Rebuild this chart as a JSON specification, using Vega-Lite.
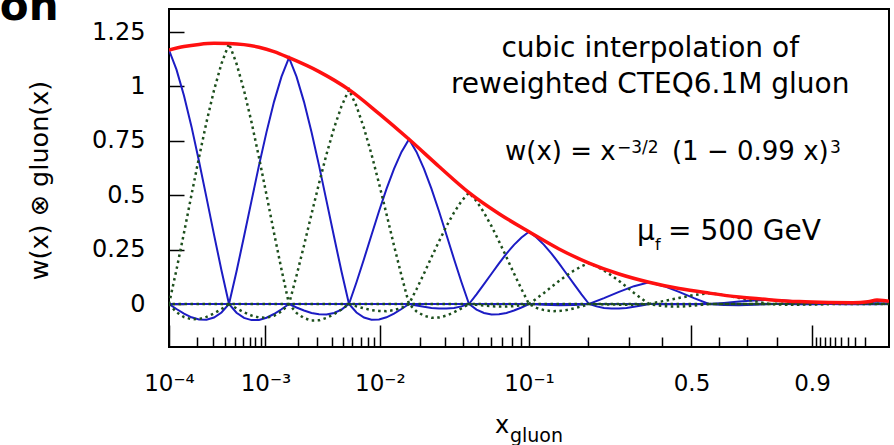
{
  "$schema": "https://vega.github.io/schema/vega-lite/v6.json",
  "width": 720,
  "height": 338,
  "autosize": {"type": "none"},
  "padding": {"left": 169, "top": 9, "right": 5, "bottom": 98},
  "background": "white",
  "config": {
    "view": {"stroke": "black", "strokeWidth": 2},
    "font": "DejaVu Sans"
  },
  "datasets": {
    "blue": [
      {"c":0,"u":0,"w":1.167},{"c":0,"u":0.125,"w":1.077},{"c":0,"u":0.25,"w":0.957},{"c":0,"u":0.375,"w":0.815},{"c":0,"u":0.5,"w":0.656},{"c":0,"u":0.625,"w":0.489},{"c":0,"u":0.75,"w":0.319},{"c":0,"u":0.875,"w":0.154},{"c":0,"u":1,"w":0},{"c":0,"u":1.125,"w":-0.040},{"c":0,"u":1.25,"w":-0.064},{"c":0,"u":1.375,"w":-0.074},{"c":0,"u":1.5,"w":-0.073},{"c":0,"u":1.625,"w":-0.063},{"c":0,"u":1.75,"w":-0.046},{"c":0,"u":1.875,"w":-0.024},{"c":0,"u":2,"w":0},
      {"c":2,"u":0,"w":0},{"c":2,"u":0.125,"w":-0.023},{"c":2,"u":0.25,"w":-0.044},{"c":2,"u":0.375,"w":-0.061},{"c":2,"u":0.5,"w":-0.071},{"c":2,"u":0.625,"w":-0.072},{"c":2,"u":0.75,"w":-0.062},{"c":2,"u":0.875,"w":-0.039},{"c":2,"u":1,"w":0},{"c":2,"u":1.125,"w":0.149},{"c":2,"u":1.25,"w":0.310},{"c":2,"u":1.375,"w":0.474},{"c":2,"u":1.5,"w":0.637},{"c":2,"u":1.625,"w":0.790},{"c":2,"u":1.75,"w":0.929},{"c":2,"u":1.875,"w":1.045},{"c":2,"u":2,"w":1.132},{"c":2,"u":2.125,"w":1.045},{"c":2,"u":2.25,"w":0.929},{"c":2,"u":2.375,"w":0.790},{"c":2,"u":2.5,"w":0.637},{"c":2,"u":2.625,"w":0.474},{"c":2,"u":2.75,"w":0.310},{"c":2,"u":2.875,"w":0.149},{"c":2,"u":3,"w":0},{"c":2,"u":3.125,"w":-0.039},{"c":2,"u":3.25,"w":-0.062},{"c":2,"u":3.375,"w":-0.072},{"c":2,"u":3.5,"w":-0.071},{"c":2,"u":3.625,"w":-0.061},{"c":2,"u":3.75,"w":-0.044},{"c":2,"u":3.875,"w":-0.023},{"c":2,"u":4,"w":0},
      {"c":4,"u":2,"w":0},{"c":4,"u":2.125,"w":-0.016},{"c":4,"u":2.25,"w":-0.030},{"c":4,"u":2.375,"w":-0.041},{"c":4,"u":2.5,"w":-0.047},{"c":4,"u":2.625,"w":-0.048},{"c":4,"u":2.75,"w":-0.041},{"c":4,"u":2.875,"w":-0.026},{"c":4,"u":3,"w":0},{"c":4,"u":3.125,"w":0.100},{"c":4,"u":3.25,"w":0.207},{"c":4,"u":3.375,"w":0.317},{"c":4,"u":3.5,"w":0.426},{"c":4,"u":3.625,"w":0.529},{"c":4,"u":3.75,"w":0.621},{"c":4,"u":3.875,"w":0.699},{"c":4,"u":4,"w":0.757},{"c":4,"u":4.125,"w":0.699},{"c":4,"u":4.25,"w":0.621},{"c":4,"u":4.375,"w":0.529},{"c":4,"u":4.5,"w":0.426},{"c":4,"u":4.625,"w":0.317},{"c":4,"u":4.75,"w":0.207},{"c":4,"u":4.875,"w":0.100},{"c":4,"u":5,"w":0},{"c":4,"u":5.125,"w":-0.026},{"c":4,"u":5.25,"w":-0.041},{"c":4,"u":5.375,"w":-0.048},{"c":4,"u":5.5,"w":-0.047},{"c":4,"u":5.625,"w":-0.041},{"c":4,"u":5.75,"w":-0.030},{"c":4,"u":5.875,"w":-0.016},{"c":4,"u":6,"w":0},
      {"c":6,"u":4,"w":0},{"c":6,"u":4.125,"w":-0.007},{"c":6,"u":4.25,"w":-0.013},{"c":6,"u":4.375,"w":-0.018},{"c":6,"u":4.5,"w":-0.021},{"c":6,"u":4.625,"w":-0.021},{"c":6,"u":4.75,"w":-0.018},{"c":6,"u":4.875,"w":-0.011},{"c":6,"u":5,"w":0},{"c":6,"u":5.125,"w":0.044},{"c":6,"u":5.25,"w":0.091},{"c":6,"u":5.375,"w":0.139},{"c":6,"u":5.5,"w":0.187},{"c":6,"u":5.625,"w":0.232},{"c":6,"u":5.75,"w":0.272},{"c":6,"u":5.875,"w":0.306},{"c":6,"u":6,"w":0.332},{"c":6,"u":6.125,"w":0.306},{"c":6,"u":6.25,"w":0.272},{"c":6,"u":6.375,"w":0.232},{"c":6,"u":6.5,"w":0.187},{"c":6,"u":6.625,"w":0.139},{"c":6,"u":6.75,"w":0.091},{"c":6,"u":6.875,"w":0.044},{"c":6,"u":7,"w":0},{"c":6,"u":7.125,"w":-0.011},{"c":6,"u":7.25,"w":-0.018},{"c":6,"u":7.375,"w":-0.021},{"c":6,"u":7.5,"w":-0.021},{"c":6,"u":7.625,"w":-0.018},{"c":6,"u":7.75,"w":-0.013},{"c":6,"u":7.875,"w":-0.007},{"c":6,"u":8,"w":0},
      {"c":8,"u":6,"w":0},{"c":8,"u":6.25,"w":-0.004},{"c":8,"u":6.5,"w":-0.006},{"c":8,"u":6.75,"w":-0.005},{"c":8,"u":7,"w":0},{"c":8,"u":7.25,"w":0.027},{"c":8,"u":7.5,"w":0.056},{"c":8,"u":7.75,"w":0.082},{"c":8,"u":8,"w":0.100},{"c":8,"u":8.25,"w":0.082},{"c":8,"u":8.5,"w":0.056},{"c":8,"u":8.75,"w":0.027},{"c":8,"u":9,"w":0},{"c":8,"u":9.25,"w":-0.005},{"c":8,"u":9.5,"w":-0.006},{"c":8,"u":9.75,"w":-0.004},{"c":8,"u":10,"w":0},
      {"c":10,"u":8,"w":0},{"c":10,"u":8.25,"w":-0.001},{"c":10,"u":8.5,"w":-0.001},{"c":10,"u":8.75,"w":-0.001},{"c":10,"u":9,"w":0},{"c":10,"u":9.25,"w":0.005},{"c":10,"u":9.5,"w":0.011},{"c":10,"u":9.75,"w":0.016},{"c":10,"u":10,"w":0.020},{"c":10,"u":10.25,"w":0.016},{"c":10,"u":10.5,"w":0.011},{"c":10,"u":10.75,"w":0.005},{"c":10,"u":11,"w":0},{"c":10,"u":11.25,"w":-0.001},{"c":10,"u":11.5,"w":-0.001},{"c":10,"u":11.75,"w":-0.001},{"c":10,"u":12,"w":0},
      {"c":12,"u":10,"w":0},{"c":12,"u":10.25,"w":0},{"c":12,"u":10.5,"w":-0.001},{"c":12,"u":10.75,"w":-0.001},{"c":12,"u":11,"w":0},{"c":12,"u":11.25,"w":0.003},{"c":12,"u":11.5,"w":0.006},{"c":12,"u":11.75,"w":0.010},{"c":12,"u":12,"w":0.012}
    ],
    "green": [
      {"c":-1,"u":0,"w":0},{"c":-1,"u":0.125,"w":-0.038},{"c":-1,"u":0.25,"w":-0.060},{"c":-1,"u":0.375,"w":-0.070},{"c":-1,"u":0.5,"w":-0.069},{"c":-1,"u":0.625,"w":-0.059},{"c":-1,"u":0.75,"w":-0.043},{"c":-1,"u":0.875,"w":-0.023},{"c":-1,"u":1,"w":0},
      {"c":1,"u":0,"w":0},{"c":1,"u":0.125,"w":0.158},{"c":1,"u":0.25,"w":0.327},{"c":1,"u":0.375,"w":0.502},{"c":1,"u":0.5,"w":0.673},{"c":1,"u":0.625,"w":0.836},{"c":1,"u":0.75,"w":0.982},{"c":1,"u":0.875,"w":1.105},{"c":1,"u":1,"w":1.197},{"c":1,"u":1.125,"w":1.105},{"c":1,"u":1.25,"w":0.982},{"c":1,"u":1.375,"w":0.836},{"c":1,"u":1.5,"w":0.673},{"c":1,"u":1.625,"w":0.502},{"c":1,"u":1.75,"w":0.327},{"c":1,"u":1.875,"w":0.158},{"c":1,"u":2,"w":0},{"c":1,"u":2.125,"w":-0.041},{"c":1,"u":2.25,"w":-0.065},{"c":1,"u":2.375,"w":-0.076},{"c":1,"u":2.5,"w":-0.075},{"c":1,"u":2.625,"w":-0.064},{"c":1,"u":2.75,"w":-0.047},{"c":1,"u":2.875,"w":-0.025},{"c":1,"u":3,"w":0},
      {"c":3,"u":1,"w":0},{"c":3,"u":1.125,"w":-0.020},{"c":3,"u":1.25,"w":-0.038},{"c":3,"u":1.375,"w":-0.053},{"c":3,"u":1.5,"w":-0.062},{"c":3,"u":1.625,"w":-0.063},{"c":3,"u":1.75,"w":-0.054},{"c":3,"u":1.875,"w":-0.034},{"c":3,"u":2,"w":0},{"c":3,"u":2.125,"w":0.130},{"c":3,"u":2.25,"w":0.269},{"c":3,"u":2.375,"w":0.413},{"c":3,"u":2.5,"w":0.554},{"c":3,"u":2.625,"w":0.688},{"c":3,"u":2.75,"w":0.808},{"c":3,"u":2.875,"w":0.909},{"c":3,"u":3,"w":0.985},{"c":3,"u":3.125,"w":0.909},{"c":3,"u":3.25,"w":0.808},{"c":3,"u":3.375,"w":0.688},{"c":3,"u":3.5,"w":0.554},{"c":3,"u":3.625,"w":0.413},{"c":3,"u":3.75,"w":0.269},{"c":3,"u":3.875,"w":0.130},{"c":3,"u":4,"w":0},{"c":3,"u":4.125,"w":-0.034},{"c":3,"u":4.25,"w":-0.054},{"c":3,"u":4.375,"w":-0.063},{"c":3,"u":4.5,"w":-0.062},{"c":3,"u":4.625,"w":-0.053},{"c":3,"u":4.75,"w":-0.038},{"c":3,"u":4.875,"w":-0.020},{"c":3,"u":5,"w":0},
      {"c":5,"u":3,"w":0},{"c":5,"u":3.125,"w":-0.011},{"c":5,"u":3.25,"w":-0.020},{"c":5,"u":3.375,"w":-0.028},{"c":5,"u":3.5,"w":-0.032},{"c":5,"u":3.625,"w":-0.033},{"c":5,"u":3.75,"w":-0.028},{"c":5,"u":3.875,"w":-0.018},{"c":5,"u":4,"w":0},{"c":5,"u":4.125,"w":0.068},{"c":5,"u":4.25,"w":0.140},{"c":5,"u":4.375,"w":0.215},{"c":5,"u":4.5,"w":0.288},{"c":5,"u":4.625,"w":0.358},{"c":5,"u":4.75,"w":0.420},{"c":5,"u":4.875,"w":0.473},{"c":5,"u":5,"w":0.512},{"c":5,"u":5.125,"w":0.473},{"c":5,"u":5.25,"w":0.420},{"c":5,"u":5.375,"w":0.358},{"c":5,"u":5.5,"w":0.288},{"c":5,"u":5.625,"w":0.215},{"c":5,"u":5.75,"w":0.140},{"c":5,"u":5.875,"w":0.068},{"c":5,"u":6,"w":0},{"c":5,"u":6.125,"w":-0.018},{"c":5,"u":6.25,"w":-0.028},{"c":5,"u":6.375,"w":-0.033},{"c":5,"u":6.5,"w":-0.032},{"c":5,"u":6.625,"w":-0.028},{"c":5,"u":6.75,"w":-0.020},{"c":5,"u":6.875,"w":-0.011},{"c":5,"u":7,"w":0},
      {"c":7,"u":5,"w":0},{"c":7,"u":5.125,"w":-0.004},{"c":7,"u":5.25,"w":-0.007},{"c":7,"u":5.375,"w":-0.010},{"c":7,"u":5.5,"w":-0.012},{"c":7,"u":5.625,"w":-0.012},{"c":7,"u":5.75,"w":-0.010},{"c":7,"u":5.875,"w":-0.006},{"c":7,"u":6,"w":0},{"c":7,"u":6.125,"w":0.025},{"c":7,"u":6.25,"w":0.051},{"c":7,"u":6.375,"w":0.079},{"c":7,"u":6.5,"w":0.106},{"c":7,"u":6.625,"w":0.131},{"c":7,"u":6.75,"w":0.154},{"c":7,"u":6.875,"w":0.173},{"c":7,"u":7,"w":0.188},{"c":7,"u":7.125,"w":0.173},{"c":7,"u":7.25,"w":0.154},{"c":7,"u":7.375,"w":0.131},{"c":7,"u":7.5,"w":0.106},{"c":7,"u":7.625,"w":0.079},{"c":7,"u":7.75,"w":0.051},{"c":7,"u":7.875,"w":0.025},{"c":7,"u":8,"w":0},{"c":7,"u":8.125,"w":-0.006},{"c":7,"u":8.25,"w":-0.010},{"c":7,"u":8.375,"w":-0.012},{"c":7,"u":8.5,"w":-0.012},{"c":7,"u":8.625,"w":-0.010},{"c":7,"u":8.75,"w":-0.007},{"c":7,"u":8.875,"w":-0.004},{"c":7,"u":9,"w":0},
      {"c":9,"u":7,"w":0},{"c":9,"u":7.25,"w":-0.002},{"c":9,"u":7.5,"w":-0.003},{"c":9,"u":7.75,"w":-0.003},{"c":9,"u":8,"w":0},{"c":9,"u":8.25,"w":0.014},{"c":9,"u":8.5,"w":0.028},{"c":9,"u":8.75,"w":0.041},{"c":9,"u":9,"w":0.050},{"c":9,"u":9.25,"w":0.041},{"c":9,"u":9.5,"w":0.028},{"c":9,"u":9.75,"w":0.014},{"c":9,"u":10,"w":0},{"c":9,"u":10.25,"w":-0.003},{"c":9,"u":10.5,"w":-0.003},{"c":9,"u":10.75,"w":-0.002},{"c":9,"u":11,"w":0},
      {"c":11,"u":9,"w":0},{"c":11,"u":10,"w":0},{"c":11,"u":10.25,"w":0.002},{"c":11,"u":10.5,"w":0.004},{"c":11,"u":10.75,"w":0.006},{"c":11,"u":11,"w":0.007},{"c":11,"u":11.25,"w":0.006},{"c":11,"u":11.5,"w":0.004},{"c":11,"u":11.75,"w":0.002},{"c":11,"u":12,"w":0}
    ],
    "red": [
      {"u":0,"w":1.167},{"u":0.25,"w":1.183},{"u":0.5,"w":1.193},{"u":0.75,"w":1.198},{"u":1,"w":1.197},{"u":1.25,"w":1.192},{"u":1.5,"w":1.180},{"u":1.75,"w":1.160},{"u":2,"w":1.132},{"u":2.5,"w":1.068},{"u":3,"w":0.985},{"u":3.5,"w":0.875},{"u":4,"w":0.757},{"u":4.5,"w":0.632},{"u":5,"w":0.512},{"u":5.5,"w":0.415},{"u":6,"w":0.332},{"u":6.5,"w":0.253},{"u":7,"w":0.188},{"u":7.5,"w":0.138},{"u":8,"w":0.100},{"u":8.5,"w":0.071},{"u":9,"w":0.050},{"u":9.5,"w":0.032},{"u":10,"w":0.020},{"u":10.5,"w":0.011},{"u":11,"w":0.007},{"u":11.4,"w":0.006},{"u":11.65,"w":0.010},{"u":11.8,"w":0.018},{"u":11.9,"w":0.016},{"u":12,"w":0.012}
    ]
  },
  "resolve": {"axis": {"x": "independent"}},
  "layer": [
    {
      "data": {"values": [{}]},
      "mark": {"type": "rule", "color": "#1c1cc4", "strokeWidth": 2},
      "encoding": {
        "y": {
          "datum": 0, "type": "quantitative",
          "scale": {"domain": [-0.1976, 1.3557], "nice": false, "zero": false},
          "axis": {
            "orient": "left", "domain": false, "grid": false,
            "values": [0, 0.25, 0.5, 0.75, 1, 1.25],
            "labelExpr": "toString(datum.value)",
            "tickSize": -15, "tickWidth": 1.5, "tickColor": "black",
            "labelFont": "DejaVu Sans", "labelFontSize": 24, "labelColor": "black",
            "labelPadding": 39, "labelAlign": "right", "labelBaseline": "middle",
            "title": "w(x) ⊗ gluon(x)", "titleFont": "DejaVu Sans", "titleFontSize": 25.5,
            "titleFontWeight": "normal", "titleColor": "black", "titleAngle": 270,
            "titleX": -122, "titleY": 171, "titleAlign": "center", "titleBaseline": "alphabetic"
          }
        }
      }
    },
    {
      "data": {"name": "blue"},
      "mark": {"type": "line", "color": "#1c1cc4", "strokeWidth": 2, "clip": true},
      "encoding": {
        "x": {
          "field": "u", "type": "quantitative",
          "scale": {"domain": [0, 12], "nice": false, "zero": false},
          "axis": {
            "orient": "bottom", "title": null, "domain": false, "grid": false,
            "values": [0, 1.6078, 3.5148, 6, 8.7081, 10.7166],
            "tickSize": -22, "tickWidth": 1.5, "tickColor": "black",
            "labelExpr": "datum.value < 0.5 ? '10⁻⁴' : datum.value < 2 ? '10⁻³' : datum.value < 4 ? '10⁻²' : datum.value < 7 ? '10⁻¹' : datum.value < 9 ? '0.5' : '0.9'",
            "labelFont": "DejaVu Sans", "labelFontSize": 23, "labelColor": "black",
            "labelPadding": 65, "labelBaseline": "alphabetic", "labelAlign": "center",
            "labelFlush": false, "labelOverlap": false
          }
        },
        "y": {"field": "w", "type": "quantitative", "scale": {"domain": [-0.1976, 1.3557], "nice": false, "zero": false}},
        "detail": {"field": "c", "type": "nominal"}
      }
    },
    {
      "data": {"values": [{}]},
      "mark": {"type": "rule", "color": "#1d4f1d", "strokeWidth": 2.5, "strokeDash": [2.5, 3.5]},
      "encoding": {
        "y": {"datum": 0, "type": "quantitative", "scale": {"domain": [-0.1976, 1.3557], "nice": false, "zero": false}}
      }
    },
    {
      "data": {"name": "green"},
      "mark": {"type": "line", "color": "#1d4f1d", "strokeWidth": 2.5, "strokeDash": [2.5, 3.5], "clip": true},
      "encoding": {
        "x": {
          "field": "u", "type": "quantitative",
          "scale": {"domain": [0, 12], "nice": false, "zero": false},
          "axis": {
            "orient": "bottom", "title": null, "domain": false, "grid": false, "labels": false,
            "values": [0.4605, 0.7385, 0.94, 1.0989, 1.2304, 1.3429, 1.4413, 1.5289, 2.143, 2.47, 2.7089, 2.8986, 3.0566, 3.1924, 3.3117, 3.4183, 4.1794, 4.5958, 4.906, 5.1563, 5.3678, 5.552, 5.7161, 5.8643, 6.9838, 7.6614, 8.2151, 9.174, 9.6386, 10.1322, 10.7857, 10.8582, 10.9348, 11.0164, 11.1045, 11.2011, 11.3099, 11.438, 11.6036],
            "tickSize": -10, "tickWidth": 1.5, "tickColor": "black"
          }
        },
        "y": {"field": "w", "type": "quantitative", "scale": {"domain": [-0.1976, 1.3557], "nice": false, "zero": false}},
        "detail": {"field": "c", "type": "nominal"}
      }
    },
    {
      "data": {"name": "red"},
      "mark": {"type": "line", "color": "#ff1010", "strokeWidth": 3.5, "interpolate": "monotone", "clip": true},
      "encoding": {
        "x": {"field": "u", "type": "quantitative", "scale": {"domain": [0, 12], "nice": false, "zero": false}, "axis": null},
        "y": {"field": "w", "type": "quantitative", "scale": {"domain": [-0.1976, 1.3557], "nice": false, "zero": false}}
      }
    },
    {
      "data": {"values": [{}]},
      "mark": {"type": "text", "text": "cubic interpolation of", "font": "DejaVu Sans", "fontSize": 28, "align": "center", "baseline": "alphabetic", "color": "black"},
      "encoding": {
        "x": {"datum": 8.02, "type": "quantitative", "scale": {"domain": [0, 12], "nice": false, "zero": false}, "axis": null},
        "y": {"datum": 1.1365, "type": "quantitative", "scale": {"domain": [-0.1976, 1.3557], "nice": false, "zero": false}}
      }
    },
    {
      "data": {"values": [{}]},
      "mark": {"type": "text", "text": "reweighted CTEQ6.1M gluon", "font": "DejaVu Sans", "fontSize": 28, "align": "center", "baseline": "alphabetic", "color": "black"},
      "encoding": {
        "x": {"datum": 8.02, "type": "quantitative", "scale": {"domain": [0, 12], "nice": false, "zero": false}, "axis": null},
        "y": {"datum": 0.968, "type": "quantitative", "scale": {"domain": [-0.1976, 1.3557], "nice": false, "zero": false}}
      }
    },
    {
      "data": {"values": [{}]},
      "mark": {"type": "text", "text": "w(x) = x", "font": "DejaVu Sans", "fontSize": 26, "align": "left", "baseline": "alphabetic", "color": "black"},
      "encoding": {
        "x": {"datum": 5.6, "type": "quantitative", "scale": {"domain": [0, 12], "nice": false, "zero": false}, "axis": null},
        "y": {"datum": 0.662, "type": "quantitative", "scale": {"domain": [-0.1976, 1.3557], "nice": false, "zero": false}}
      }
    },
    {
      "data": {"values": [{}]},
      "mark": {"type": "text", "text": "−3/2", "font": "DejaVu Sans", "fontSize": 17, "align": "left", "baseline": "alphabetic", "color": "black"},
      "encoding": {
        "x": {"datum": 7.467, "type": "quantitative", "scale": {"domain": [0, 12], "nice": false, "zero": false}, "axis": null},
        "y": {"datum": 0.695, "type": "quantitative", "scale": {"domain": [-0.1976, 1.3557], "nice": false, "zero": false}}
      }
    },
    {
      "data": {"values": [{}]},
      "mark": {"type": "text", "text": "(1 − 0.99 x)", "font": "DejaVu Sans", "fontSize": 26, "align": "left", "baseline": "alphabetic", "color": "black"},
      "encoding": {
        "x": {"datum": 8.383, "type": "quantitative", "scale": {"domain": [0, 12], "nice": false, "zero": false}, "axis": null},
        "y": {"datum": 0.662, "type": "quantitative", "scale": {"domain": [-0.1976, 1.3557], "nice": false, "zero": false}}
      }
    },
    {
      "data": {"values": [{}]},
      "mark": {"type": "text", "text": "3", "font": "DejaVu Sans", "fontSize": 17, "align": "left", "baseline": "alphabetic", "color": "black"},
      "encoding": {
        "x": {"datum": 11.017, "type": "quantitative", "scale": {"domain": [0, 12], "nice": false, "zero": false}, "axis": null},
        "y": {"datum": 0.695, "type": "quantitative", "scale": {"domain": [-0.1976, 1.3557], "nice": false, "zero": false}}
      }
    },
    {
      "data": {"values": [{}]},
      "mark": {"type": "text", "text": "μ", "font": "DejaVu Sans", "fontSize": 28, "align": "left", "baseline": "alphabetic", "color": "black"},
      "encoding": {
        "x": {"datum": 7.8, "type": "quantitative", "scale": {"domain": [0, 12], "nice": false, "zero": false}, "axis": null},
        "y": {"datum": 0.294, "type": "quantitative", "scale": {"domain": [-0.1976, 1.3557], "nice": false, "zero": false}}
      }
    },
    {
      "data": {"values": [{}]},
      "mark": {"type": "text", "text": "f", "font": "DejaVu Sans", "fontSize": 16, "align": "left", "baseline": "alphabetic", "color": "black"},
      "encoding": {
        "x": {"datum": 8.1, "type": "quantitative", "scale": {"domain": [0, 12], "nice": false, "zero": false}, "axis": null},
        "y": {"datum": 0.248, "type": "quantitative", "scale": {"domain": [-0.1976, 1.3557], "nice": false, "zero": false}}
      }
    },
    {
      "data": {"values": [{}]},
      "mark": {"type": "text", "text": "= 500 GeV", "font": "DejaVu Sans", "fontSize": 28, "align": "left", "baseline": "alphabetic", "color": "black"},
      "encoding": {
        "x": {"datum": 8.317, "type": "quantitative", "scale": {"domain": [0, 12], "nice": false, "zero": false}, "axis": null},
        "y": {"datum": 0.294, "type": "quantitative", "scale": {"domain": [-0.1976, 1.3557], "nice": false, "zero": false}}
      }
    },
    {
      "data": {"values": [{}]},
      "mark": {"type": "text", "text": "x", "font": "DejaVu Sans", "fontSize": 24, "align": "left", "baseline": "alphabetic", "color": "black"},
      "encoding": {
        "x": {"datum": 5.433, "type": "quantitative", "scale": {"domain": [0, 12], "nice": false, "zero": false}, "axis": null},
        "y": {"datum": -0.593, "type": "quantitative", "scale": {"domain": [-0.1976, 1.3557], "nice": false, "zero": false}}
      }
    },
    {
      "data": {"values": [{}]},
      "mark": {"type": "text", "text": "gluon", "font": "DejaVu Sans", "fontSize": 19, "align": "left", "baseline": "alphabetic", "color": "black"},
      "encoding": {
        "x": {"datum": 5.683, "type": "quantitative", "scale": {"domain": [0, 12], "nice": false, "zero": false}, "axis": null},
        "y": {"datum": -0.632, "type": "quantitative", "scale": {"domain": [-0.1976, 1.3557], "nice": false, "zero": false}}
      }
    },
    {
      "data": {"values": [{}]},
      "mark": {"type": "text", "text": "on", "font": "DejaVu Sans", "fontSize": 42, "fontWeight": "bold", "align": "left", "baseline": "alphabetic", "color": "black"},
      "encoding": {
        "x": {"datum": -2.82, "type": "quantitative", "scale": {"domain": [0, 12], "nice": false, "zero": false}, "axis": null},
        "y": {"datum": 1.305, "type": "quantitative", "scale": {"domain": [-0.1976, 1.3557], "nice": false, "zero": false}}
      }
    }
  ]
}
